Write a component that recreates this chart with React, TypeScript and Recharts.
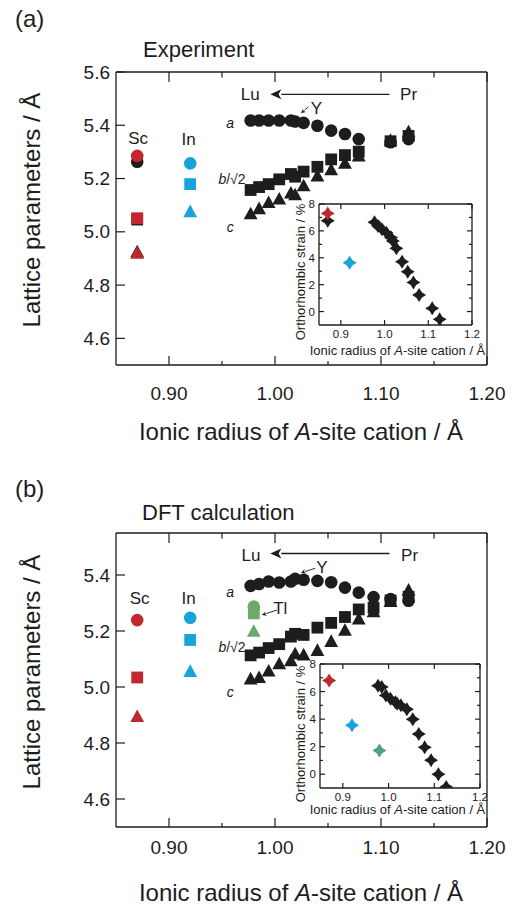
import React from "react";
import { ScatterChart, Scatter, XAxis, YAxis, ReferenceDot, ReferenceLine } from "recharts";

const FONT = "'Liberation Sans', Arial, Helvetica, sans-serif";
const INK = "#1d1d1d";
const RED = "#c0282e";
const CYAN = "#1aa2dc";
const GREEN = "#6aab6c";
const TEAL = "#4f9d8b";

// ionic radius of the rare-earth A-site cations, Lu ... Pr
const radiiExp = [0.977, 0.985, 0.994, 1.004, 1.015, 1.019, 1.027, 1.04, 1.053, 1.066, 1.079, 1.109, 1.126];
// the DFT set also has Pm
const radiiDft = [0.977, 0.985, 0.994, 1.004, 1.015, 1.019, 1.027, 1.04, 1.053, 1.066, 1.079, 1.093, 1.109, 1.126];

// lattice parameters a, b/√2, c (Å)
const expA = [5.418, 5.418, 5.418, 5.418, 5.418, 5.414, 5.409, 5.398, 5.38, 5.367, 5.348, 5.336, 5.348];
const expB = [5.157, 5.168, 5.179, 5.197, 5.217, 5.207, 5.226, 5.244, 5.272, 5.288, 5.301, 5.34, 5.36];
const expC = [5.067, 5.086, 5.109, 5.122, 5.145, 5.138, 5.172, 5.209, 5.232, 5.257, 5.284, 5.343, 5.375];

const dftA = [5.361, 5.368, 5.377, 5.373, 5.377, 5.386, 5.383, 5.379, 5.374, 5.355, 5.337, 5.321, 5.314, 5.308];
const dftB = [5.113, 5.123, 5.139, 5.153, 5.18, 5.19, 5.186, 5.212, 5.229, 5.25, 5.277, 5.283, 5.309, 5.322];
const dftC = [5.028, 5.033, 5.056, 5.082, 5.093, 5.118, 5.114, 5.13, 5.162, 5.202, 5.242, 5.268, 5.305, 5.345];

// Sc, In, Tl sites: [a, b/√2, c]
const scR = 0.87;
const inR = 0.92;
const tlR = 0.98;
const scExp = [5.285, 5.051, 4.919];
const scExpRef = [5.263, 5.046, 4.924];
const inExp = [5.257, 5.179, 5.075];
const scDft = [5.239, 5.034, 4.894];
const inDft = [5.247, 5.168, 5.055];
const tlDft = [5.287, 5.263, 5.198];

// orthorhombic strain (%)
const strainExp = [6.64, 6.36, 6.12, 5.87, 5.5, 5.25, 4.7, 3.71, 2.96, 2.17, 1.23, 0.24, -0.58];
const strainDft = [6.42, 6.33, 5.72, 5.48, 5.22, 5.12, 5.0, 4.72, 3.99, 2.92, 1.95, 1.02, 0.0, -0.92];
const strainScExp = [7.3];
const strainScExpRef = [6.75];
const strainInExp = [3.63];
const strainScDft = [6.8];
const strainInDft = [3.55];
const strainTlDft = [1.72];

const xTicks = [0.9, 0.95, 1.0, 1.05, 1.1, 1.15, 1.2];
const xMajor = [0.9, 1.0, 1.1, 1.2];
const yTicksExp = [4.6, 4.8, 5.0, 5.2, 5.4, 5.6];
const yTicksDft = [4.6, 4.8, 5.0, 5.2, 5.4];
const insetXTicks = [0.9, 1.0, 1.1, 1.2];
const insetYTicks = [0, 1, 2, 3, 4, 5, 6, 7, 8];
const insetYLabels = [0, 2, 4, 6, 8];

const KINDS = ["a", "b", "c"];
const lattice = (xs: number[], a: number[], b: number[], c: number[]) => [
  ...a.map((y, i) => ({ x: xs[i], y, kind: "a" })),
  ...b.map((y, i) => ({ x: xs[i], y, kind: "b" })),
  ...c.map((y, i) => ({ x: xs[i], y, kind: "c" })),
];
const site = (x: number, vals: number[]) => vals.map((y, i) => ({ x, y, kind: KINDS[i] }));
const stars = (xs: number[], ys: number[]) => ys.map((y, i) => ({ x: xs[i], y, kind: "s" }));

const drawMarker = (fill: string) => (p: any) => {
  const cx = p.cx;
  const cy = p.cy;
  const kind = p.payload?.kind ?? p.kind;
  if (kind === "a") return <circle cx={cx} cy={cy} r={6.3} fill={fill} />;
  if (kind === "b") return <rect x={cx - 5.9} y={cy - 5.9} width={11.8} height={11.8} fill={fill} />;
  if (kind === "c")
    return <path d={`M${cx},${cy - 7.3}L${cx + 6.9},${cy + 5.3}L${cx - 6.9},${cy + 5.3}Z`} fill={fill} />;
  const r = 7;
  const k = 2.7;
  return (
    <path
      d={`M${cx},${cy - r}L${cx + k},${cy - k}L${cx + r},${cy}L${cx + k},${cy + k}L${cx},${cy + r}L${cx - k},${cy + k}L${cx - r},${cy}L${cx - k},${cy - k}Z`}
      fill={fill}
    />
  );
};

const near = (list: number[], v: number) => list.some((m) => Math.abs(m - v) < 1e-6);

type TickOpts = { majors: number[]; labels?: number[]; digits?: number; fs?: number; off?: number; big: number; small: number };
const makeTick = (side: "bottom" | "top" | "left" | "right", o: TickOpts) => (p: any) => {
  const v = Number(p.payload.value);
  const len = near(o.majors, v) ? o.big : o.small;
  const { x, y } = p;
  let line;
  if (side === "bottom") line = <line x1={x} x2={x} y1={y} y2={y - len} />;
  else if (side === "top") line = <line x1={x} x2={x} y1={y} y2={y + len} />;
  else if (side === "left") line = <line x1={x} x2={x + len} y1={y} y2={y} />;
  else line = <line x1={x} x2={x - len} y1={y} y2={y} />;
  let label = null;
  if (o.labels && near(o.labels, v)) {
    const txt = v.toFixed(o.digits ?? 1);
    if (side === "bottom")
      label = (
        <text x={x} y={y + (o.off ?? 0)} textAnchor="middle" dominantBaseline="central" fontSize={o.fs} fontFamily={FONT} fill={INK} stroke="none">
          {txt}
        </text>
      );
    else if (side === "left")
      label = (
        <text x={x - (o.off ?? 0)} y={y} textAnchor="end" dominantBaseline="central" fontSize={o.fs} fontFamily={FONT} fill={INK} stroke="none">
          {txt}
        </text>
      );
  }
  return (
    <g stroke={INK} strokeWidth={1.2}>
      {line}
      {label}
    </g>
  );
};

const AXIS = { stroke: INK, strokeWidth: 1.3 };

const arrowShape = (head: number, width: number, sw: number) => (p: any) => {
  const { x1, y1, x2, y2 } = p;
  const ang = Math.atan2(y2 - y1, x2 - x1);
  const bx = x2 - head * Math.cos(ang);
  const by = y2 - head * Math.sin(ang);
  const nx = (-Math.sin(ang) * width) / 2;
  const ny = (Math.cos(ang) * width) / 2;
  return (
    <g>
      <line x1={x1} y1={y1} x2={bx} y2={by} stroke={INK} strokeWidth={sw} />
      <path d={`M${x2},${y2}L${bx + nx},${by + ny}L${bx + head * 0.25 * Math.cos(ang)},${by + head * 0.25 * Math.sin(ang)}L${bx - nx},${by - ny}Z`} fill={INK} />
    </g>
  );
};

type Note = { x: number; y: number; text: string; size: number; italic?: boolean };
type Arrow = { x1: number; y1: number; x2: number; y2: number; big?: boolean };

const notesExp: Note[] = [
  { x: 0.8708, y: 5.351, text: "Sc", size: 17 },
  { x: 0.9185, y: 5.348, text: "In", size: 17 },
  { x: 0.9578, y: 5.41, text: "a", size: 14, italic: true },
  { x: 0.9594, y: 5.197, text: "b/√2", size: 14 },
  { x: 0.9578, y: 5.019, text: "c", size: 14, italic: true },
  { x: 0.9767, y: 5.514, text: "Lu", size: 17 },
  { x: 1.126, y: 5.514, text: "Pr", size: 17 },
  { x: 1.039, y: 5.464, text: "Y", size: 17 },
];
const arrowsExp: Arrow[] = [
  { x1: 1.108, y1: 5.516, x2: 0.9956, y2: 5.516, big: true },
  { x1: 1.0317, y1: 5.47, x2: 1.0245, y2: 5.445 },
];
const notesDft: Note[] = [
  { x: 0.8723, y: 5.317, text: "Sc", size: 17 },
  { x: 0.9185, y: 5.317, text: "In", size: 17 },
  { x: 0.9578, y: 5.34, text: "a", size: 14, italic: true },
  { x: 0.9594, y: 5.144, text: "b/√2", size: 14 },
  { x: 0.9578, y: 4.981, text: "c", size: 14, italic: true },
  { x: 0.9774, y: 5.471, text: "Lu", size: 17 },
  { x: 1.127, y: 5.471, text: "Pr", size: 17 },
  { x: 1.0443, y: 5.427, text: "Y", size: 17 },
  { x: 1.005, y: 5.279, text: "Tl", size: 17 },
];
const arrowsDft: Arrow[] = [
  { x1: 1.108, y1: 5.477, x2: 0.9956, y2: 5.477, big: true },
  { x1: 1.038, y1: 5.424, x2: 1.0245, y2: 5.408 },
  { x1: 1.0019, y1: 5.275, x2: 0.9877, y2: 5.257 },
];

const renderNotes = (notes: Note[]) =>
  notes.map((n, i) => (
    <ReferenceDot
      key={`n${i}`}
      x={n.x}
      y={n.y}
      r={0}
      ifOverflow="visible"
      shape={(p: any) => (
        <text x={p.cx} y={p.cy} textAnchor="middle" dominantBaseline="central" fontSize={n.size} fontFamily={FONT} fill={INK} fontStyle={n.italic ? "italic" : "normal"}>
          {n.text === "b/√2" ? (
            <>
              <tspan fontStyle="italic">b</tspan>/√2
            </>
          ) : (
            n.text
          )}
        </text>
      )}
    />
  ));

const renderArrows = (arrows: Arrow[]) =>
  arrows.map((a, i) => (
    <ReferenceLine
      key={`a${i}`}
      segment={[
        { x: a.x1, y: a.y1 },
        { x: a.x2, y: a.y2 },
      ]}
      ifOverflow="visible"
      shape={a.big ? arrowShape(11, 10, 1.4) : arrowShape(4.5, 4.5, 0.9)}
    />
  ));

type Series = { data: any[]; color: string };

function LatticePanel(props: {
  top: number;
  margin: { top: number; right: number; bottom: number; left: number };
  yDomain: [number, number];
  yTicks: number[];
  series: Series[];
  notes: Note[];
  arrows: Arrow[];
  tickOff: number;
}) {
  const { top, margin, yDomain, yTicks, series, notes, arrows, tickOff } = props;
  return (
    <div style={{ position: "absolute", left: 0, top, width: 516, height: 420 }}>
      <ScatterChart width={516} height={420} margin={margin}>
        <XAxis
          xAxisId={0}
          type="number"
          dataKey="x"
          domain={[0.85, 1.2]}
          ticks={xTicks}
          interval={0}
          allowDataOverflow
          height={1}
          tickSize={0}
          tickMargin={0}
          axisLine={AXIS}
          tickLine={false}
          tick={makeTick("bottom", { majors: xMajor, labels: xMajor, digits: 2, fs: 19, off: tickOff, big: 9, small: 4 })}
        />
        <XAxis
          xAxisId="top"
          orientation="top"
          type="number"
          dataKey="x"
          domain={[0.85, 1.2]}
          ticks={xTicks}
          interval={0}
          allowDataOverflow
          height={1}
          tickSize={0}
          tickMargin={0}
          axisLine={AXIS}
          tickLine={false}
          tick={makeTick("top", { majors: xMajor, big: 10, small: 5.5 })}
        />
        <YAxis
          yAxisId={0}
          type="number"
          dataKey="y"
          domain={yDomain}
          ticks={yTicks}
          interval={0}
          allowDataOverflow
          width={116}
          tickSize={0}
          tickMargin={0}
          axisLine={AXIS}
          tickLine={false}
          tick={makeTick("left", { majors: yTicks, labels: yTicks, digits: 1, fs: 19, off: 6, big: 9, small: 5 })}
        />
        <YAxis
          yAxisId="right"
          orientation="right"
          type="number"
          dataKey="y"
          domain={yDomain}
          ticks={yTicks}
          allowDataOverflow
          width={1}
          tickSize={0}
          tickMargin={0}
          axisLine={AXIS}
          tickLine={false}
          tick={() => <g />}
        />
        {series.map((s, i) => (
          <Scatter key={`s${i}`} data={s.data} isAnimationActive={false} shape={drawMarker(s.color)} />
        ))}
        {renderNotes(notes)}
        {renderArrows(arrows)}
      </ScatterChart>
    </div>
  );
}

function StrainInset(props: {
  left: number;
  top: number;
  margin: { top: number; right: number; bottom: number; left: number };
  yWidth: number;
  series: Series[];
}) {
  const { left, top, margin, yWidth, series } = props;
  return (
    <div style={{ position: "absolute", left, top, width: 230, height: 180 }}>
      <ScatterChart width={230} height={180} margin={margin}>
        <XAxis
          xAxisId={0}
          type="number"
          dataKey="x"
          domain={[0.85, 1.2]}
          ticks={insetXTicks}
          interval={0}
          allowDataOverflow
          height={1}
          tickSize={0}
          tickMargin={0}
          axisLine={AXIS}
          tickLine={false}
          tick={makeTick("bottom", { majors: insetXTicks, labels: insetXTicks, digits: 1, fs: 11.5, off: 9, big: 5, small: 3 })}
        />
        <XAxis
          xAxisId="top"
          orientation="top"
          type="number"
          dataKey="x"
          domain={[0.85, 1.2]}
          ticks={insetXTicks}
          interval={0}
          allowDataOverflow
          height={1}
          tickSize={0}
          tickMargin={0}
          axisLine={AXIS}
          tickLine={false}
          tick={makeTick("top", { majors: insetXTicks, big: 5, small: 3 })}
        />
        <YAxis
          yAxisId={0}
          type="number"
          dataKey="y"
          domain={[-1, 8]}
          ticks={insetYTicks}
          interval={0}
          allowDataOverflow
          width={yWidth}
          tickSize={0}
          tickMargin={0}
          axisLine={AXIS}
          tickLine={false}
          tick={makeTick("left", { majors: insetYLabels, labels: insetYLabels, digits: 0, fs: 11.5, off: 4, big: 5, small: 3 })}
        />
        <YAxis
          yAxisId="right"
          orientation="right"
          type="number"
          dataKey="y"
          domain={[-1, 8]}
          ticks={insetYTicks}
          interval={0}
          allowDataOverflow
          width={1}
          tickSize={0}
          tickMargin={0}
          axisLine={AXIS}
          tickLine={false}
          tick={makeTick("right", { majors: insetYLabels, big: 5, small: 3 })}
        />
        {series.map((s, i) => (
          <Scatter key={`s${i}`} data={s.data} isAnimationActive={false} shape={drawMarker(s.color)} />
        ))}
      </ScatterChart>
    </div>
  );
}

const AxisTitle = ({ x, y, size }: { x: number; y: number; size: number }) => (
  <text x={x} y={y} fontSize={size} fontFamily={FONT} fill={INK} textAnchor="middle">
    Ionic radius of <tspan fontStyle="italic">A</tspan>-site cation / Å
  </text>
);

export default function App() {
  const expSeries: Series[] = [
    { data: lattice(radiiExp, expA, expB, expC), color: INK },
    { data: site(scR, scExpRef), color: INK },
    { data: site(scR, scExp), color: RED },
    { data: site(inR, inExp), color: CYAN },
  ];
  const dftSeries: Series[] = [
    { data: lattice(radiiDft, dftA, dftB, dftC), color: INK },
    { data: site(scR, scDft), color: RED },
    { data: site(inR, inDft), color: CYAN },
    { data: site(tlR, tlDft), color: GREEN },
  ];
  const expStrain: Series[] = [
    { data: stars(radiiExp, strainExp), color: INK },
    { data: stars([scR], strainScExpRef), color: INK },
    { data: stars([scR], strainScExp), color: RED },
    { data: stars([inR], strainInExp), color: CYAN },
  ];
  const dftStrain: Series[] = [
    { data: stars(radiiDft, strainDft), color: INK },
    { data: stars([scR], strainScDft), color: RED },
    { data: stars([inR], strainInDft), color: CYAN },
    { data: stars([tlR], strainTlDft), color: TEAL },
  ];

  return (
    <div style={{ position: "absolute", left: 0, top: 0, width: 516, height: 907, background: "#fff", overflow: "hidden" }}>
      <LatticePanel
        top={0}
        margin={{ top: 71, right: 28, bottom: 54, left: 0 }}
        yDomain={[4.5, 5.6]}
        yTicks={yTicksExp}
        series={expSeries}
        notes={notesExp}
        arrows={arrowsExp}
        tickOff={28}
      />
      <StrainInset left={270} top={190} margin={{ top: 13, right: 27, bottom: 44, left: 0 }} yWidth={49} series={expStrain} />
      <LatticePanel
        top={460}
        margin={{ top: 72, right: 28, bottom: 52, left: 0 }}
        yDomain={[4.5, 5.55]}
        yTicks={yTicksDft}
        series={dftSeries}
        notes={notesDft}
        arrows={arrowsDft}
        tickOff={20}
      />
      <StrainInset left={270} top={650} margin={{ top: 13, right: 19, bottom: 41, left: 0 }} yWidth={50} series={dftStrain} />
      <svg width={516} height={907} style={{ position: "absolute", left: 0, top: 0, pointerEvents: "none" }}>
        <text x={15} y={27} fontSize={24} fontFamily={FONT} fill={INK}>
          (a)
        </text>
        <text x={143} y={56.5} fontSize={22} fontFamily={FONT} fill={INK}>
          Experiment
        </text>
        <text x={40} y={210} fontSize={24} fontFamily={FONT} fill={INK} textAnchor="middle" transform="rotate(-90 40 210)">
          Lattice parameters / Å
        </text>
        <AxisTitle x={301} y={440} size={24} />
        <text x={305} y={272} fontSize={13} fontFamily={FONT} fill={INK} textAnchor="middle" transform="rotate(-90 305 272)">
          Orthorhombic strain / %
        </text>
        <AxisTitle x={397.5} y={355} size={13} />

        <text x={15} y={497} fontSize={24} fontFamily={FONT} fill={INK}>
          (b)
        </text>
        <text x={142} y={520} fontSize={22} fontFamily={FONT} fill={INK}>
          DFT calculation
        </text>
        <text x={40} y={672} fontSize={24} fontFamily={FONT} fill={INK} textAnchor="middle" transform="rotate(-90 40 672)">
          Lattice parameters / Å
        </text>
        <AxisTitle x={301} y={900.5} size={24} />
        <text x={305} y={734} fontSize={13} fontFamily={FONT} fill={INK} textAnchor="middle" transform="rotate(-90 305 734)">
          Orthorhombic strain / %
        </text>
        <AxisTitle x={397.5} y={813.5} size={13} />
      </svg>
    </div>
  );
}
